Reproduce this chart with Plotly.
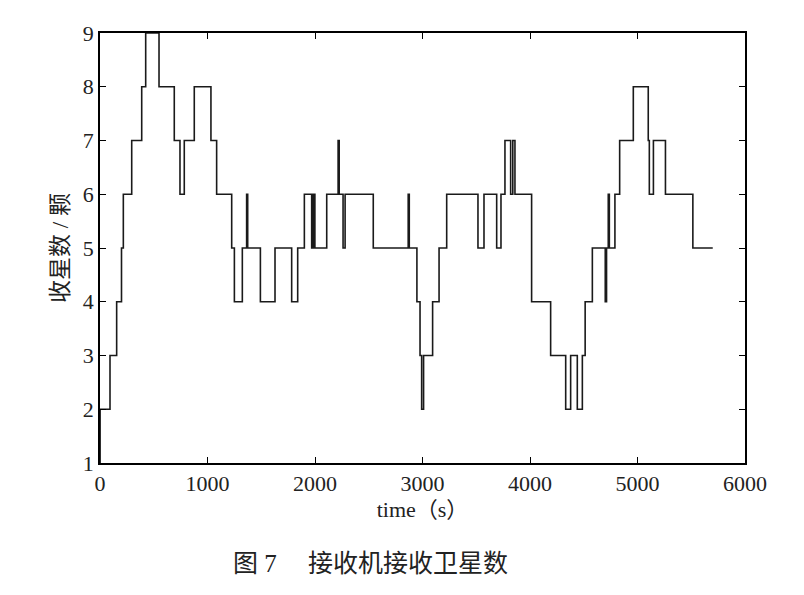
import plotly.graph_objects as go

# step change times (s) and satellite count from that time on
times = [0, 1, 93, 155, 200, 217, 295, 388, 425, 549, 691, 744, 784, 877, 1032, 1085,
         1225, 1250, 1324, 1364, 1374, 1492, 1628, 1783, 1839, 1901, 1969, 1984, 1999,
         2028, 2109, 2215, 2225, 2261, 2280, 2542, 2867, 2877, 2948, 2977, 2992, 3010,
         3094, 3154, 3225, 3516, 3572, 3690, 3730, 3767, 3820, 3840, 3860, 4015, 4192,
         4332, 4378, 4440, 4487, 4513, 4580, 4700, 4712, 4728, 4738, 4790, 4834, 4961,
         5100, 5110, 5148, 5260, 5515, 5700]
counts = [1, 2, 3, 4, 5, 6, 7, 8, 9, 8, 7, 6, 7, 8, 7, 6,
          5, 4, 5, 6, 5, 4, 5, 4, 5, 6, 5, 6, 5,
          5, 6, 7, 6, 5, 6, 5, 6, 5, 4, 3, 2, 3,
          4, 5, 6, 5, 6, 5, 6, 7, 6, 7, 6, 4, 3,
          2, 3, 2, 3, 4, 5, 4, 5, 6, 5, 6, 7, 8,
          7, 6, 7, 6, 5, 5]

fig = go.Figure(go.Scatter(x=times, y=counts, mode="lines", line_shape="hv",
                           line=dict(color="#1a1a1a", width=1.6)))

axis = dict(showgrid=False, zeroline=False, mirror="ticks", showline=True,
            linecolor="black", linewidth=1.5, ticks="inside", ticklen=6,
            tickcolor="black", tickfont=dict(size=22, color="#222"))
fig.update_xaxes(range=[0, 6000], dtick=1000, **axis,
                 title=dict(text="time（s）", font=dict(size=22), standoff=6))
fig.update_yaxes(range=[1, 9], dtick=1, **axis,
                 title=dict(text="收星数 / 颗", font=dict(size=23), standoff=8))
fig.add_annotation(text="图 7　 接收机接收卫星数", xref="paper", yref="paper",
                   x=0.42, y=-0.27, showarrow=False, font=dict(size=25, color="#222"))
fig.update_layout(width=804, height=595, margin=dict(l=92, r=67, t=25, b=140),
                  plot_bgcolor="white", paper_bgcolor="white", showlegend=False,
                  font=dict(family="Liberation Serif, Noto Sans CJK SC", color="#222"))
fig.write_html("out.html")
